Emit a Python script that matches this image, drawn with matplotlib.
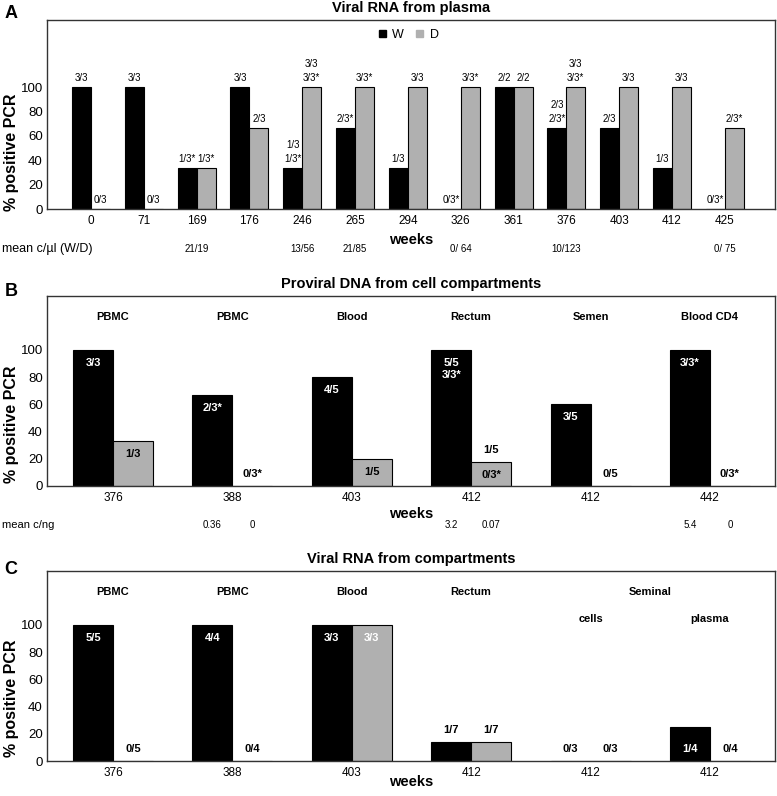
import matplotlib.pyplot as plt
import numpy as np
from matplotlib.patches import Patch
from matplotlib.transforms import blended_transform_factory

plt.rcParams['font.family'] = ['Liberation Sans', 'DejaVu Sans']

W_PX, H_PX = 777, 796
BLACK = 'black'
GRAY = '#b0b0b0'

################################################################################
# A - viral RNA from plasma
weeks_a = ['0', '71', '169', '176', '246', '265', '294', '326', '361', '376', '403', '412', '425']
pct_w_a = [100, 100, 33.3, 100, 33.3, 66.7, 33.3, 0, 100, 66.7, 66.7, 33.3, 0]
pct_d_a = [0, 0, 33.3, 66.7, 100, 100, 100, 100, 100, 100, 100, 100, 66.7]
lab_w_a = ['3/3', '3/3', '1/3*', '3/3', '1/3\n1/3*', '2/3*', '1/3', '0/3*', '2/2',
           '2/3\n2/3*', '2/3', '1/3', '0/3*']
lab_d_a = ['0/3', '0/3', '1/3*', '2/3', '3/3\n3/3*', '3/3*', '3/3', '3/3*', '2/2',
           '3/3\n3/3*', '3/3', '3/3', '2/3*']
mean_weeks_a = ['169', '246', '265', '326', '376', '425']
mean_a = ['21/19', '13/56', '21/85', '0/ 64', '10/123', '0/ 75']

# B - proviral DNA from cell compartments
weeks_b = ['376', '388', '403', '412', '412', '442']
comp_b = ['PBMC', 'PBMC', 'Blood', 'Rectum', 'Semen', 'Blood CD4']
pct_w_b = [100, 66.7, 80, 100, 60, 100]
pct_d_b = [33.3, 0, 20, 18, 0, 0]
lab_w_b = [['3/3'], ['2/3*'], ['4/5'], ['5/5\n3/3*'], ['3/5'], ['3/3*']]
lab_d_b = [['1/3'], ['0/3*'], ['1/5'], ['1/5', '0/3*'], ['0/5'], ['0/3*']]
mean_w_b = ['', '0.36', '', '3.2', '', '5.4']
mean_d_b = ['', '0', '', '0.07', '', '0']

# C - viral RNA from compartments
weeks_c = ['376', '388', '403', '412', '412', '412']
comp_c = ['PBMC', 'PBMC', 'Blood', 'Rectum', '', '']
sub_c = ['', '', '', '', 'cells', 'plasma']
pct_w_c = [100, 100, 100, 14.3, 0, 25]
pct_d_c = [0, 0, 100, 14.3, 0, 0]
lab_w_c = [['5/5'], ['4/4'], ['3/3'], ['1/7'], ['0/3'], ['1/4']]
lab_d_c = [['0/5'], ['0/4'], ['3/3'], ['1/7'], ['0/3'], ['0/4']]

# label placement: in = inside below top, above = above top, base = above zero
where_w_b = [['in'], ['in'], ['in'], ['in'], ['in'], ['in']]
where_d_b = [['in'], ['above'], ['in'], ['above', 'in'], ['above'], ['above']]
where_w_c = [['in'], ['in'], ['in'], ['above'], ['above'], ['base']]
where_d_c = [['above'], ['above'], ['in'], ['above'], ['above'], ['above']]


################################################################################
fig = plt.figure(figsize=(W_PX / 100, H_PX / 100), dpi=100, facecolor='white')


def px_axes(left, top, right, bottom):
    return fig.add_axes([left / W_PX, 1 - bottom / H_PX,
                         (right - left) / W_PX, (bottom - top) / H_PX])


def ftext(x, y, s, **kw):
    kw.setdefault('ha', 'center')
    kw.setdefault('va', 'center')
    fig.text(x / W_PX, 1 - y / H_PX, s, **kw)


def style_axes(ax, labels, ymax, xlim):
    ax.set_xlim(*xlim)
    ax.set_ylim(0, ymax)
    ax.set_xticks(np.arange(len(labels)))
    ax.set_xticklabels(labels, fontsize=8.5)
    ax.set_yticks([0, 20, 40, 60, 80, 100])
    ax.tick_params(axis='both', length=0, labelsize=9.5, pad=3)
    ax.tick_params(axis='x', labelsize=8.5, pad=4)
    for sp in ax.spines.values():
        sp.set_color('#333333')
        sp.set_linewidth(1.0)


def put(ax, x, top, text, where, color):
    if where == 'base':
        top = 0
    if where == 'in':
        off, va = -8, 'top'
    else:
        off, va = 12, 'center'
    ax.annotate(text, (x, top), xytext=(0, off * 0.72), textcoords='offset points',
                ha='center', va=va, color=color, fontsize=8, fontweight='bold')


################################################################################
# panel A
ax = px_axes(47, 20, 775, 209)
x = np.arange(len(weeks_a))
w = 0.36
ax.bar(x - w / 2, pct_w_a, w, color=BLACK, edgecolor='black', linewidth=0.8)
ax.bar(x + w / 2, pct_d_a, w, color=GRAY, edgecolor='black', linewidth=0.8)
style_axes(ax, weeks_a, 155, (-0.833, 12.95))
for i in range(len(x)):
    for dx, val, lab in [(-w / 2, pct_w_a[i], lab_w_a[i]), (w / 2, pct_d_a[i], lab_d_a[i])]:
        ax.annotate(lab, (x[i] + dx, val), xytext=(0, 3), textcoords='offset points',
                    ha='center', va='bottom', fontsize=7, linespacing=1.5)
handles = [Patch(color=BLACK), Patch(color=GRAY)]
ax.legend(handles, ['W', 'D'], ncol=2, loc='center', bbox_to_anchor=(0.497, 0.92),
          frameon=False, fontsize=9, handlelength=0.55, handleheight=0.55,
          handletextpad=0.5, columnspacing=1.0)
trans = blended_transform_factory(ax.transData, fig.transFigure)
for wk, m in zip(mean_weeks_a, mean_a):
    ax.text(weeks_a.index(wk), 1 - 249 / H_PX, m, transform=trans, ha='center',
            va='center', fontsize=7)
ftext(2, 249, 'mean c/µl (W/D)', ha='left', fontsize=9)
ftext(411, 240, 'weeks', fontsize=10.5, fontweight='bold')
ftext(411, 8, 'Viral RNA from plasma', fontsize=10.5, fontweight='bold')
ftext(11, 13, 'A', fontsize=13, fontweight='bold')
ftext(12, 152, '% positive PCR', rotation=90, fontsize=11.5, fontweight='bold')

# panels B and C
panels = [
    (296, 486, weeks_b, comp_b, None, pct_w_b, pct_d_b, lab_w_b, lab_d_b, where_w_b, where_d_b,
     'Proviral DNA from cell compartments', 'B', 284, 292, 514, 424),
    (571, 761, weeks_c, comp_c, sub_c, pct_w_c, pct_d_c, lab_w_c, lab_d_c, where_w_c, where_d_c,
     'Viral RNA from compartments', 'C', 559, 570, 782, 698),
]
for (top, bot, weeks, comp, sub, pw, pd_, lw, ld, ww, wd,
     title, letter, ty, ly, wy, yly) in panels:
    ax = px_axes(47, top, 775, bot)
    x = np.arange(len(weeks))
    w = 0.335
    ax.bar(x - w / 2, pw, w, color=BLACK, edgecolor='black', linewidth=0.8)
    ax.bar(x + w / 2, pd_, w, color=GRAY, edgecolor='black', linewidth=0.8)
    style_axes(ax, weeks, 139.7, (-0.553, 5.545))
    for i in range(len(x)):
        for lab, wh in zip(lw[i], ww[i]):
            put(ax, x[i] - w / 2, pw[i], lab, wh, 'white' if wh in ('in', 'base') else 'black')
        for lab, wh in zip(ld[i], wd[i]):
            col = 'white' if (wh == 'in' and pd_[i] >= 100) else 'black'
            put(ax, x[i] + w / 2, pd_[i], lab, wh, col)
    tr = ax.get_xaxis_transform()
    for i, c in enumerate(comp):
        ax.text(x[i], 0.889, c, transform=tr, ha='center', va='center',
                fontsize=8, fontweight='bold')
    if sub is not None:
        ax.text(4.5, 0.889, 'Seminal', transform=tr, ha='center', va='center',
                fontsize=8, fontweight='bold')
        for i, s in enumerate(sub):
            if s:
                ax.text(x[i], 0.747, s, transform=tr, ha='center', va='center',
                        fontsize=8, fontweight='bold')
    else:
        trans = blended_transform_factory(ax.transData, fig.transFigure)
        for i in range(len(x)):
            for dx, m in [(-w / 2, mean_w_b[i]), (w / 2, mean_d_b[i])]:
                if m:
                    ax.text(x[i] + dx, 1 - 525 / H_PX, m, transform=trans, ha='center',
                            va='center', fontsize=7)
        ftext(2, 525, 'mean c/ng', ha='left', fontsize=8)
    ftext(411, wy, 'weeks', fontsize=10.5, fontweight='bold')
    ftext(411, ty, title, fontsize=10.5, fontweight='bold')
    ftext(11, ly, letter, fontsize=13, fontweight='bold')
    ftext(12, yly, '% positive PCR', rotation=90, fontsize=11.5, fontweight='bold')

plt.savefig('out.png', dpi=100)
